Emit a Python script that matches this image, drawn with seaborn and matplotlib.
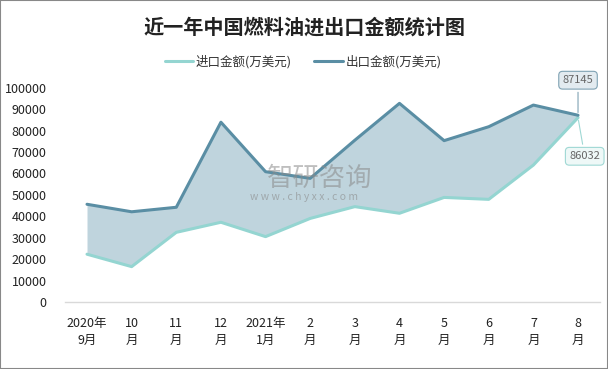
import matplotlib
matplotlib.use("Agg")
import matplotlib.pyplot as plt
import seaborn as sns
import pandas as pd
from matplotlib.patches import Rectangle

# data (万美元)
months = ["2020年\n9月", "10\n月", "11\n月", "12\n月", "2021年\n1月", "2\n月",
          "3\n月", "4\n月", "5\n月", "6\n月", "7\n月", "8\n月"]
import_vals = [22300, 16500, 32500, 37200, 30500, 39000, 44500, 41400, 48800, 47900, 63900, 86032]
export_vals = [45600, 42100, 44200, 83900, 60800, 57700, 75500, 92700, 75300, 81800, 91900, 87145]
yticks = [0, 10000, 20000, 30000, 40000, 50000, 60000, 70000, 80000, 90000, 100000]

sns.set_style("white")
plt.rcParams["font.family"] = ["Noto Sans CJK SC", "DejaVu Sans"]

df = pd.DataFrame({"idx": range(len(months)), "进口": import_vals, "出口": export_vals})

imp_color = "#94d5d1"
exp_color = "#5a8ea4"
fill_color = "#bfd4dd"

fig = plt.figure(figsize=(6.08, 3.69), dpi=100)
ax = fig.add_axes([0.1064, 0.1816, 0.881, 0.5807])

ax.fill_between(df["idx"], df["进口"], df["出口"], color=fill_color, lw=0)
sns.lineplot(data=df, x="idx", y="进口", ax=ax, color=imp_color, lw=2.2, label="进口金额(万美元)")
sns.lineplot(data=df, x="idx", y="出口", ax=ax, color=exp_color, lw=2.2, label="出口金额(万美元)")

ax.set_xlim(-0.5, len(months) - 0.5)
ax.set_ylim(0, 100000)
ax.set_yticks(yticks)
ax.set_yticklabels([str(v) for v in yticks], fontsize=9, color="#222222")
ax.set_xticks(range(len(months)))
ax.set_xticklabels(months, fontsize=9, color="#222222", linespacing=1.4)
ax.tick_params(axis="y", length=0, pad=13)
ax.tick_params(axis="x", length=0, pad=11)
ax.set_xlabel("")
ax.set_ylabel("")
for side in ["top", "right", "left"]:
    ax.spines[side].set_visible(False)
ax.spines["bottom"].set_color("#d9d9d9")
ax.spines["bottom"].set_linewidth(1)

# watermark
fig.text(320 / 608, 1 - 178 / 369, "智研咨询", fontsize=19, color="#8a8a8a",
         alpha=0.55, ha="center", va="center")
fig.text(304 / 608, 1 - 197 / 369, "w w w . c h y x x . c o m", fontsize=7.5,
         color="#8a8a8a", alpha=0.6, ha="center", va="center")

# callouts on the last point
last = len(months) - 1
ax.annotate(str(export_vals[-1]), xy=(last, export_vals[-1]), xytext=(last, 103500),
            fontsize=8, color="#666666", ha="center", va="center", annotation_clip=False,
            bbox=dict(boxstyle="round,pad=0.35", fc="#e3ebf0", ec="#7fa2b3", lw=0.8),
            arrowprops=dict(arrowstyle="-", color="#7fa2b3", lw=0.8))
ax.annotate(str(import_vals[-1]), xy=(last, import_vals[-1]), xytext=(last + 0.15, 68000),
            fontsize=8, color="#666666", ha="center", va="center", annotation_clip=False,
            bbox=dict(boxstyle="round,pad=0.35", fc="#eef8f7", ec="#9fd8d4", lw=0.8),
            arrowprops=dict(arrowstyle="-", color="#9fd8d4", lw=0.8))

leg = ax.legend(loc="center", ncol=2, frameon=False, fontsize=9, handlelength=2.3,
                handletextpad=0.2, columnspacing=1.8)
leg.set_bbox_to_anchor((303 / 608, 1 - 62 / 369), transform=fig.transFigure)
for t in leg.get_texts():
    t.set_color("#333333")

fig.text(304 / 608, 1 - 27 / 369, "近一年中国燃料油进出口金额统计图", ha="center", va="center",
         fontsize=14.5, fontweight="bold", color="#222222")

fig.patches.append(Rectangle((0, 0), 1, 1, transform=fig.transFigure, fill=False,
                             ec="#888888", lw=1.5))

fig.savefig("out.png", dpi=100)
